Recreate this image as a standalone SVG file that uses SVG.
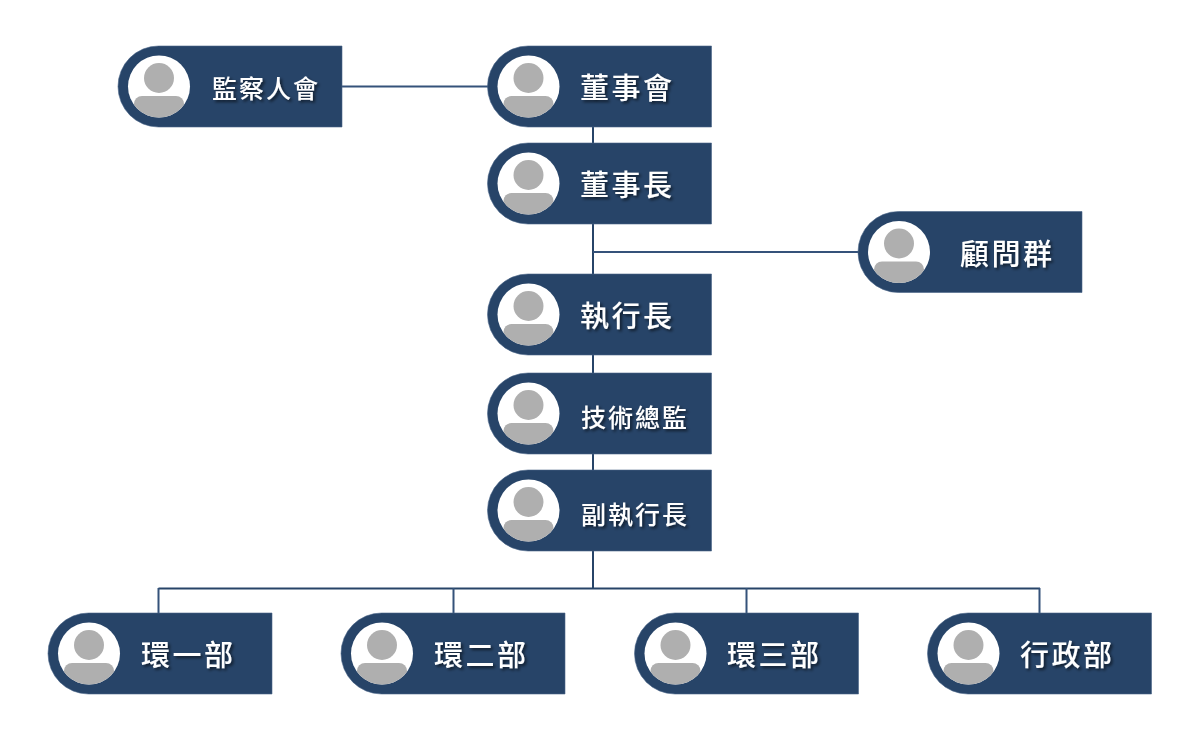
<svg xmlns="http://www.w3.org/2000/svg" xmlns:xlink="http://www.w3.org/1999/xlink" width="1200" height="750" viewBox="0 0 1200 750">
<style>
.pill{fill:#274468;stroke:#4a6488;stroke-width:.6}
.ln{stroke:#274468;stroke-width:2;fill:none}
.lt{stroke:#35527a;stroke-width:2;fill:none}
.t{fill:#fff;font-family:"Noto Sans CJK TC","Noto Sans CJK SC",sans-serif;font-weight:500;filter:url(#sh)}
.a{font-size:29px;letter-spacing:2.500px}
.b{font-size:25px;letter-spacing:2px}
</style>
<defs>
<filter id="sh" x="-10%" y="-20%" width="125%" height="150%"><feDropShadow dx="2" dy="2" stdDeviation="1.6" flood-color="#000" flood-opacity=".6"/></filter>
<clipPath id="cc"><circle cx="41" cy="40.5" r="31"/></clipPath>
<g id="pill">
<path class="pill" d="M40.5 0H224V81H40.5A40.5 40.5 0 0 1 40.500 0Z"/>
<circle cx="41" cy="40.500" r="31" fill="#fff"/>
<circle cx="41" cy="32" r="15" fill="#afafaf"/>
<path d="M16 62V58A8 8 0 0 1 24 50H58A8 8 0 0 1 66 58V62V75H16Z" fill="#afafaf" clip-path="url(#cc)"/>
</g>
</defs>
<g id="connectors">
<path class="lt" d="M342 86.500H488"/>
<path class="ln" d="M593 127V143M593 224V274M593 355V373M593 454V470M593 551V588"/>
<path class="lt" d="M593 252H858"/>
<path class="ln" d="M158.500 588.500H1040"/>
<path class="lt" d="M158.500 588V613M453.500 588V613M746.500 588V613M1039.500 588V613"/>
</g>
<g id="n-supervisors"><use href="#pill" x="118" y="46"/><text class="t b" x="212" y="98">監察人會</text></g>
<g id="n-board"><use href="#pill" x="487.500" y="46"/><text class="t a" x="580" y="99">董事會</text></g>
<g id="n-chairman"><use href="#pill" x="487.500" y="143"/><text class="t a" x="580" y="196">董事長</text></g>
<g id="n-advisors"><use href="#pill" x="858" y="211.500"/><text class="t a" x="960" y="265">顧問群</text></g>
<g id="n-ceo"><use href="#pill" x="487.500" y="274"/><text class="t a" x="580" y="327">執行長</text></g>
<g id="n-cto"><use href="#pill" x="487.500" y="373"/><text class="t b" x="581" y="427">技術總監</text></g>
<g id="n-vp"><use href="#pill" x="487.500" y="470"/><text class="t b" x="581" y="523.500">副執行長</text></g>
<g id="n-d1"><use href="#pill" x="48" y="613"/><text class="t a" x="141" y="666">環一部</text></g>
<g id="n-d2"><use href="#pill" x="341" y="613"/><text class="t a" x="434" y="666">環二部</text></g>
<g id="n-d3"><use href="#pill" x="634.500" y="613"/><text class="t a" x="727" y="666">環三部</text></g>
<g id="n-admin"><use href="#pill" x="927.500" y="613"/><text class="t a" x="1020" y="666">行政部</text></g>
</svg>
